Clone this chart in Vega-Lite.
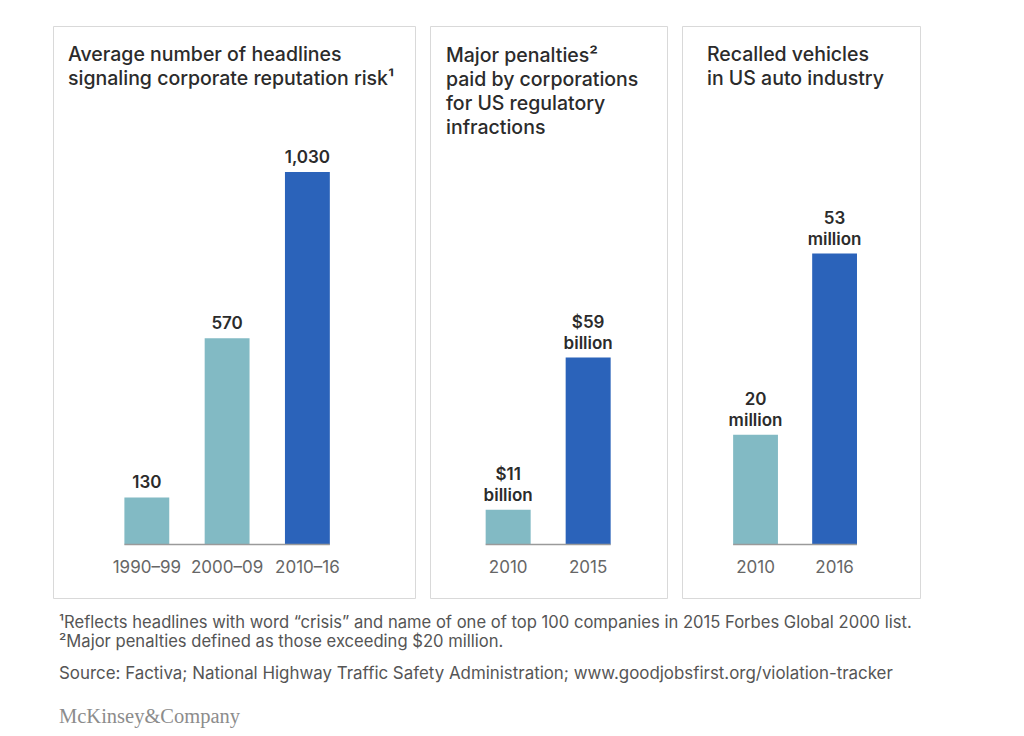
{
  "$schema": "https://vega.github.io/schema/vega-lite/v6.json",
  "background": "white",
  "padding": {"left": 52, "top": 25, "right": 0, "bottom": 0},
  "config": {
    "font": "Inter",
    "view": {"stroke": "#d9d9d9", "strokeWidth": 1},
    "concat": {"spacing": 15}
  },
  "title": {
    "text": "McKinsey&Company",
    "orient": "bottom",
    "anchor": "start",
    "frame": "group",
    "font": "Liberation Serif",
    "fontSize": 20.5,
    "fontWeight": "normal",
    "color": "#8c8c8c",
    "dx": 6,
    "offset": 25
  },
  "vconcat": [
    {
      "title": {
        "text": [
          "¹Reflects headlines with word “crisis” and name of one of top 100 companies in 2015 Forbes Global 2000 list.",
          "²Major penalties defined as those exceeding $20 million."
        ],
        "subtitle": "Source: Factiva; National Highway Traffic Safety Administration; www.goodjobsfirst.org/violation-tracker",
        "orient": "bottom",
        "anchor": "start",
        "frame": "group",
        "font": "Inter",
        "fontSize": 16.6,
        "fontWeight": "normal",
        "color": "#555555",
        "lineHeight": 19,
        "subtitleFont": "Inter",
        "subtitleFontSize": 16.9,
        "subtitleColor": "#555555",
        "subtitlePadding": 16,
        "dx": 6,
        "offset": 16
      },
      "bounds": "flush",
      "spacing": 15,
      "resolve": {"scale": {"x": "independent", "y": "independent", "color": "independent"}},
      "hconcat": [
        {
          "width": 362,
          "height": 572,
          "title": {
            "text": ["Average number of headlines", "signaling corporate reputation risk¹"],
            "anchor": "start", "frame": "group", "baseline": "top",
            "fontSize": 19.5, "fontWeight": 500, "color": "#2b2b2b", "lineHeight": 24,
            "dx": 15, "offset": -63.5
          },
          "data": {"values": [
            {"period": "1990–99", "value": 130, "line1": "", "line2": "130", "tone": "earlier"},
            {"period": "2000–09", "value": 570, "line1": "", "line2": "570", "tone": "earlier"},
            {"period": "2010–16", "value": 1030, "line1": "", "line2": "1,030", "tone": "latest"}
          ]},
          "encoding": {
            "x": {"field": "period", "type": "nominal", "sort": null,
              "scale": {"domain": ["1990–99", "2000–09", "2010–16"], "paddingInner": 0.441, "paddingOuter": 0.975, "align": 0.456},
              "axis": {"title": null, "orient": "bottom", "domain": false, "ticks": false, "tickSize": 0, "labelPadding": 0, "offset": -39, "labelAngle": 0, "labelFontSize": 17, "labelColor": "#666666", "labelFont": "Inter"}},
            "y": {"field": "value", "type": "quantitative", "scale": {"domain": [-148, 1433.5], "nice": false, "zero": false}, "axis": null}
          },
          "layer": [
            {"mark": {"type": "bar"},
             "encoding": {"color": {"field": "tone", "type": "nominal", "scale": {"domain": ["earlier", "latest"], "range": ["#82bac4", "#2b63ba"]}, "legend": null}}},
            {"mark": {"type": "rule", "color": "#9a9a9a", "strokeWidth": 1.5},
             "data": {"values": [{"from": "1990–99", "to": "2010–16", "base": 0}]},
             "encoding": {
               "x": {"field": "from", "type": "nominal", "bandPosition": 0},
               "x2": {"field": "to", "bandPosition": 1},
               "y": {"field": "base", "type": "quantitative"}
             }},
            {"mark": {"type": "text", "baseline": "alphabetic", "dy": -9, "fontSize": 17, "fontWeight": 600, "color": "#2b2b2b"},
             "encoding": {"text": {"field": "line2"}}}
          ]
        },
        {
          "width": 237,
          "height": 572,
          "title": {
            "text": ["Major penalties²", "paid by corporations", "for US regulatory", "infractions"],
            "anchor": "start", "frame": "group", "baseline": "top",
            "fontSize": 19.5, "fontWeight": 500, "color": "#2b2b2b", "lineHeight": 24,
            "dx": 16, "offset": -112
          },
          "data": {"values": [
            {"period": "2010", "value": 11, "line1": "$11", "line2": "billion", "tone": "earlier"},
            {"period": "2015", "value": 59, "line1": "$59", "line2": "billion", "tone": "latest"}
          ]},
          "encoding": {
            "x": {"field": "period", "type": "nominal", "sort": null,
              "scale": {"domain": ["2010", "2015"], "paddingInner": 0.4375, "paddingOuter": 0.7, "align": 0.497},
              "axis": {"title": null, "orient": "bottom", "domain": false, "ticks": false, "tickSize": 0, "labelPadding": 0, "offset": -39, "labelAngle": 0, "labelFontSize": 17, "labelColor": "#666666", "labelFont": "Inter"}},
            "y": {"field": "value", "type": "quantitative", "scale": {"domain": [-16.88, 163.6], "nice": false, "zero": false}, "axis": null}
          },
          "layer": [
            {"mark": {"type": "bar"},
             "encoding": {"color": {"field": "tone", "type": "nominal", "scale": {"domain": ["earlier", "latest"], "range": ["#82bac4", "#2b63ba"]}, "legend": null}}},
            {"mark": {"type": "rule", "color": "#9a9a9a", "strokeWidth": 1.5},
             "data": {"values": [{"from": "2010", "to": "2015", "base": 0}]},
             "encoding": {
               "x": {"field": "from", "type": "nominal", "bandPosition": 0},
               "x2": {"field": "to", "bandPosition": 1},
               "y": {"field": "base", "type": "quantitative"}
             }},
            {"mark": {"type": "text", "baseline": "alphabetic", "dy": -30, "fontSize": 17, "fontWeight": 600, "color": "#2b2b2b"},
             "encoding": {"text": {"field": "line1"}}},
            {"mark": {"type": "text", "baseline": "alphabetic", "dy": -9, "fontSize": 17, "fontWeight": 600, "color": "#2b2b2b"},
             "encoding": {"text": {"field": "line2"}}}
          ]
        },
        {
          "width": 238,
          "height": 572,
          "title": {
            "text": ["Recalled vehicles", "in US auto industry"],
            "anchor": "start", "frame": "group", "baseline": "top",
            "fontSize": 19.5, "fontWeight": 500, "color": "#2b2b2b", "lineHeight": 24,
            "dx": 25, "offset": -63.5
          },
          "data": {"values": [
            {"period": "2010", "value": 20, "line1": "20", "line2": "million", "tone": "earlier"},
            {"period": "2016", "value": 53, "line1": "53", "line2": "million", "tone": "latest"}
          ]},
          "encoding": {
            "x": {"field": "period", "type": "nominal", "sort": null,
              "scale": {"domain": ["2010", "2016"], "paddingInner": 0.433, "paddingOuter": 0.722, "align": 0.448},
              "axis": {"title": null, "orient": "bottom", "domain": false, "ticks": false, "tickSize": 0, "labelPadding": 0, "offset": -39, "labelAngle": 0, "labelFontSize": 17, "labelColor": "#666666", "labelFont": "Inter"}},
            "y": {"field": "value", "type": "quantitative", "scale": {"domain": [-9.745, 94.44], "nice": false, "zero": false}, "axis": null}
          },
          "layer": [
            {"mark": {"type": "bar"},
             "encoding": {"color": {"field": "tone", "type": "nominal", "scale": {"domain": ["earlier", "latest"], "range": ["#82bac4", "#2b63ba"]}, "legend": null}}},
            {"mark": {"type": "rule", "color": "#9a9a9a", "strokeWidth": 1.5},
             "data": {"values": [{"from": "2010", "to": "2016", "base": 0}]},
             "encoding": {
               "x": {"field": "from", "type": "nominal", "bandPosition": 0},
               "x2": {"field": "to", "bandPosition": 1},
               "y": {"field": "base", "type": "quantitative"}
             }},
            {"mark": {"type": "text", "baseline": "alphabetic", "dy": -30, "fontSize": 17, "fontWeight": 600, "color": "#2b2b2b"},
             "encoding": {"text": {"field": "line1"}}},
            {"mark": {"type": "text", "baseline": "alphabetic", "dy": -9, "fontSize": 17, "fontWeight": 600, "color": "#2b2b2b"},
             "encoding": {"text": {"field": "line2"}}}
          ]
        }
      ]
    }
  ]
}
